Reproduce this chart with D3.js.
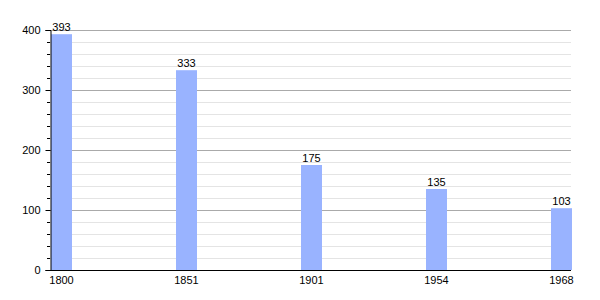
<!DOCTYPE html>
<html>
<head>
<meta charset="utf-8">
<script src="https://cdn.jsdelivr.net/npm/d3@7"></script>
<style>
  body { margin: 0; background: #fff; }
  text { font-family: "Liberation Sans", Arial, sans-serif; }
</style>
</head>
<body>
<div id="chart"></div>
<script>
var years = ["1800", "1851", "1901", "1954", "1968"];
var population = [393, 333, 175, 135, 103];
var yTicks = [0, 100, 200, 300, 400];

var svgWidth = 600;
var svgHeight = 300;
var margin = { top: 30, right: 29, bottom: 30, left: 50 };
var width = svgWidth - margin.left - margin.right;
var height = svgHeight - margin.top - margin.bottom;

var svg = d3.select("#chart")
  .append("svg")
  .attr("width", svgWidth)
  .attr("height", svgHeight);

var chartGroup = svg.append("g")
  .attr("transform", `translate(${margin.left}, ${margin.top})`);

// bars sit at the left of each band, spaced 125px apart
var xScale = d3.scaleBand()
  .domain(years)
  .range([0, 625])
  .paddingInner(0)
  .paddingOuter(0);
var barWidth = 21;

var yScale = d3.scaleLinear()
  .domain([0, 400])
  .range([height, 0]);

// minor grid every 20
var minorTicks = d3.range(20, 401, 20).filter(d => d % 100 !== 0);
chartGroup.selectAll(".minor-grid")
  .data(minorTicks)
  .enter()
  .append("line")
  .attr("x1", 0)
  .attr("x2", width)
  .attr("y1", d => yScale(d) + 0.5)
  .attr("y2", d => yScale(d) + 0.5)
  .attr("stroke", "#e4e4e4")
  .attr("stroke-width", 1);

// major grid every 100
chartGroup.selectAll(".major-grid")
  .data(yTicks.filter(d => d > 0))
  .enter()
  .append("line")
  .attr("x1", 0)
  .attr("x2", width)
  .attr("y1", d => yScale(d) + 0.5)
  .attr("y2", d => yScale(d) + 0.5)
  .attr("stroke", "#aaaaaa")
  .attr("stroke-width", 1);

// bars
chartGroup.selectAll("rect")
  .data(population)
  .enter()
  .append("rect")
  .attr("x", (d, i) => xScale(years[i]) + 1)
  .attr("y", d => yScale(d))
  .attr("width", barWidth)
  .attr("height", d => height - yScale(d))
  .attr("fill", "#99b3ff");

// value labels
chartGroup.selectAll(".value")
  .data(population)
  .enter()
  .append("text")
  .attr("x", (d, i) => xScale(years[i]) + 1 + barWidth / 2)
  .attr("y", d => yScale(d) - 3)
  .attr("text-anchor", "middle")
  .attr("font-size", "11px")
  .attr("fill", "#000")
  .text(d => d);

// y axis minor ticks
chartGroup.selectAll(".minor-tick")
  .data(minorTicks)
  .enter()
  .append("line")
  .attr("x1", -3)
  .attr("x2", 0)
  .attr("y1", d => yScale(d) + 0.5)
  .attr("y2", d => yScale(d) + 0.5)
  .attr("stroke", "#000");

var yAxis = d3.axisLeft(yScale)
  .tickValues(yTicks)
  .tickSize(5)
  .tickPadding(5);

var yAxisGroup = chartGroup.append("g")
  .attr("transform", "translate(0.5, 0)")
  .call(yAxis);
yAxisGroup.selectAll("text").attr("font-size", "11px").attr("fill", "#000")
  .style("font-family", "Liberation Sans, Arial, sans-serif");

// x axis line
chartGroup.append("line")
  .attr("x1", 0)
  .attr("x2", width)
  .attr("y1", height + 0.5)
  .attr("y2", height + 0.5)
  .attr("stroke", "#000");

// x labels centred under each bar
chartGroup.selectAll(".year")
  .data(years)
  .enter()
  .append("text")
  .attr("x", d => xScale(d) + 1 + barWidth / 2)
  .attr("y", height + 14)
  .attr("text-anchor", "middle")
  .attr("font-size", "11px")
  .attr("fill", "#000")
  .text(d => d);
</script>
</body>
</html>
